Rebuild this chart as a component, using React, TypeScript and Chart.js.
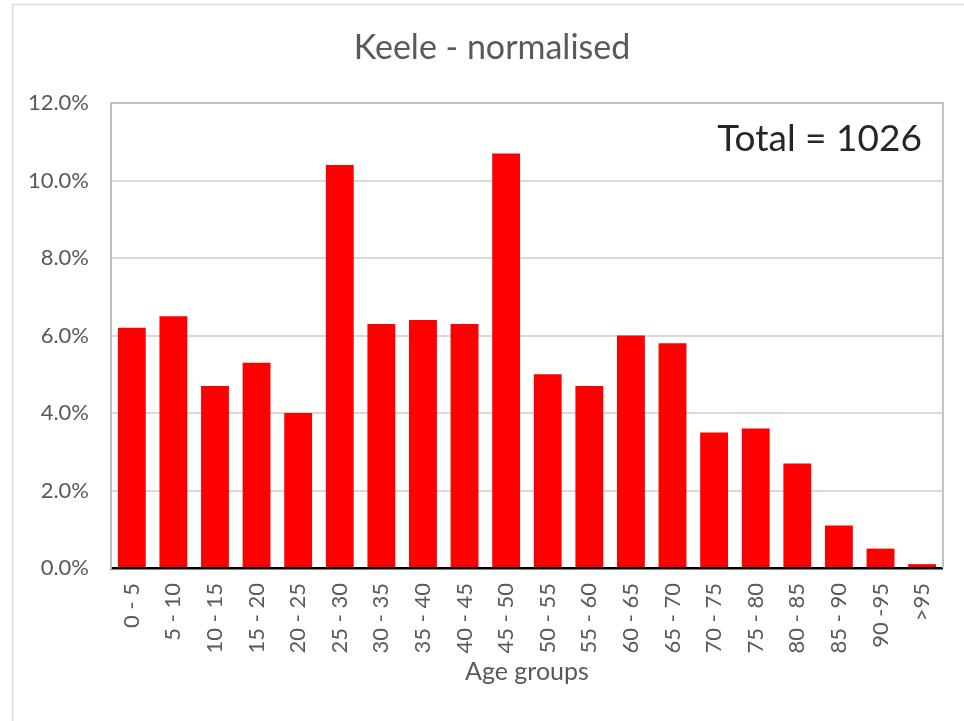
import React, { useEffect, useRef } from "react";
import { Chart, registerables } from "chart.js";

Chart.register(...registerables);

const categories = [
  "0 - 5", "5 - 10", "10 - 15", "15 - 20", "20 - 25", "25 - 30", "30 - 35",
  "35 - 40", "40 - 45", "45 - 50", "50 - 55", "55 - 60", "60 - 65", "65 - 70",
  "70 - 75", "75 - 80", "80 - 85", "85 - 90", "90 -95", ">95",
];
const percentages = [
  6.2, 6.5, 4.7, 5.3, 4.0, 10.4, 6.3, 6.4, 6.3, 10.7,
  5.0, 4.7, 6.0, 5.8, 3.5, 3.6, 2.7, 1.1, 0.5, 0.1,
];
const titleText = "Keele - normalised";
const totalText = "Total = 1026";
const xAxisTitle = "Age groups";
const yMin = 0;
const yMax = 12;
const yStep = 2;

const FONT = "Lato, 'Open Sans', sans-serif";
const GREY_TEXT = "#595959";

export default function App() {
  const ref = useRef<HTMLCanvasElement | null>(null);

  useEffect(() => {
    document.body.style.margin = "0";
    const canvas = ref.current;
    if (!canvas) return;

    const decor = {
      id: "decor",
      beforeDraw(chart: any) {
        const ctx = chart.ctx;
        ctx.save();
        ctx.fillStyle = "#ffffff";
        ctx.fillRect(0, 0, chart.width, chart.height);
        ctx.strokeStyle = "#d9d9d9";
        ctx.lineWidth = 1.5;
        ctx.strokeRect(12.5, 4.5, 1200, 1200);
        ctx.restore();
      },
      afterDatasetsDraw(chart: any) {
        const ctx = chart.ctx;
        const a = chart.chartArea;
        ctx.save();
        ctx.strokeStyle = "#bfbfbf";
        ctx.lineWidth = 2;
        ctx.beginPath();
        ctx.moveTo(a.left, a.top);
        ctx.lineTo(a.right, a.top);
        ctx.lineTo(a.right, a.bottom);
        ctx.stroke();
        ctx.restore();
      },
      afterDraw(chart: any) {
        const ctx = chart.ctx;
        const a = chart.chartArea;
        ctx.save();
        ctx.fillStyle = GREY_TEXT;
        ctx.font = `34px ${FONT}`;
        ctx.textAlign = "center";
        ctx.textBaseline = "alphabetic";
        ctx.fillText(titleText, 492, 59);
        ctx.fillStyle = "#262626";
        ctx.font = `37px ${FONT}`;
        ctx.textAlign = "right";
        ctx.fillText(totalText, a.right - 21, 151);
        ctx.restore();
      },
    };

    const chart = new Chart(canvas, {
      type: "bar",
      data: {
        labels: categories,
        datasets: [
          {
            data: percentages,
            backgroundColor: "#ff0000",
            borderWidth: 0,
            barPercentage: 0.67,
            categoryPercentage: 1,
          },
        ],
      },
      options: {
        animation: false,
        responsive: false,
        maintainAspectRatio: false,
        layout: { padding: { top: 103, right: 20, left: 0, bottom: 0 } },
        plugins: {
          legend: { display: false },
          tooltip: { enabled: false },
          title: { display: false },
        },
        scales: {
          x: {
            grid: { display: false, drawTicks: false },
            border: { display: true, color: "#000000", width: 2.5 },
            ticks: {
              color: GREY_TEXT,
              font: { family: FONT, size: 22 },
              maxRotation: 90,
              minRotation: 90,
              padding: 15,
              autoSkip: false,
            },
            title: {
              display: true,
              text: xAxisTitle,
              color: GREY_TEXT,
              font: { family: FONT, size: 25 },
              padding: { top: 0, bottom: 34 },
            },
            afterFit(scale: any) {
              scale.height = 153;
            },
          },
          y: {
            min: yMin,
            max: yMax,
            grid: { color: "#d9d9d9", lineWidth: 2, drawTicks: false },
            border: { display: true, color: "#bfbfbf", width: 2 },
            ticks: {
              stepSize: yStep,
              color: GREY_TEXT,
              font: { family: FONT, size: 22 },
              padding: 22,
              callback: (v: any) => Number(v).toFixed(1) + "%",
            },
            afterFit(scale: any) {
              scale.width = 111;
            },
          },
        },
      },
      plugins: [decor],
    });

    return () => chart.destroy();
  }, []);

  return <canvas ref={ref} width={964} height={721} style={{ display: "block" }} />;
}
